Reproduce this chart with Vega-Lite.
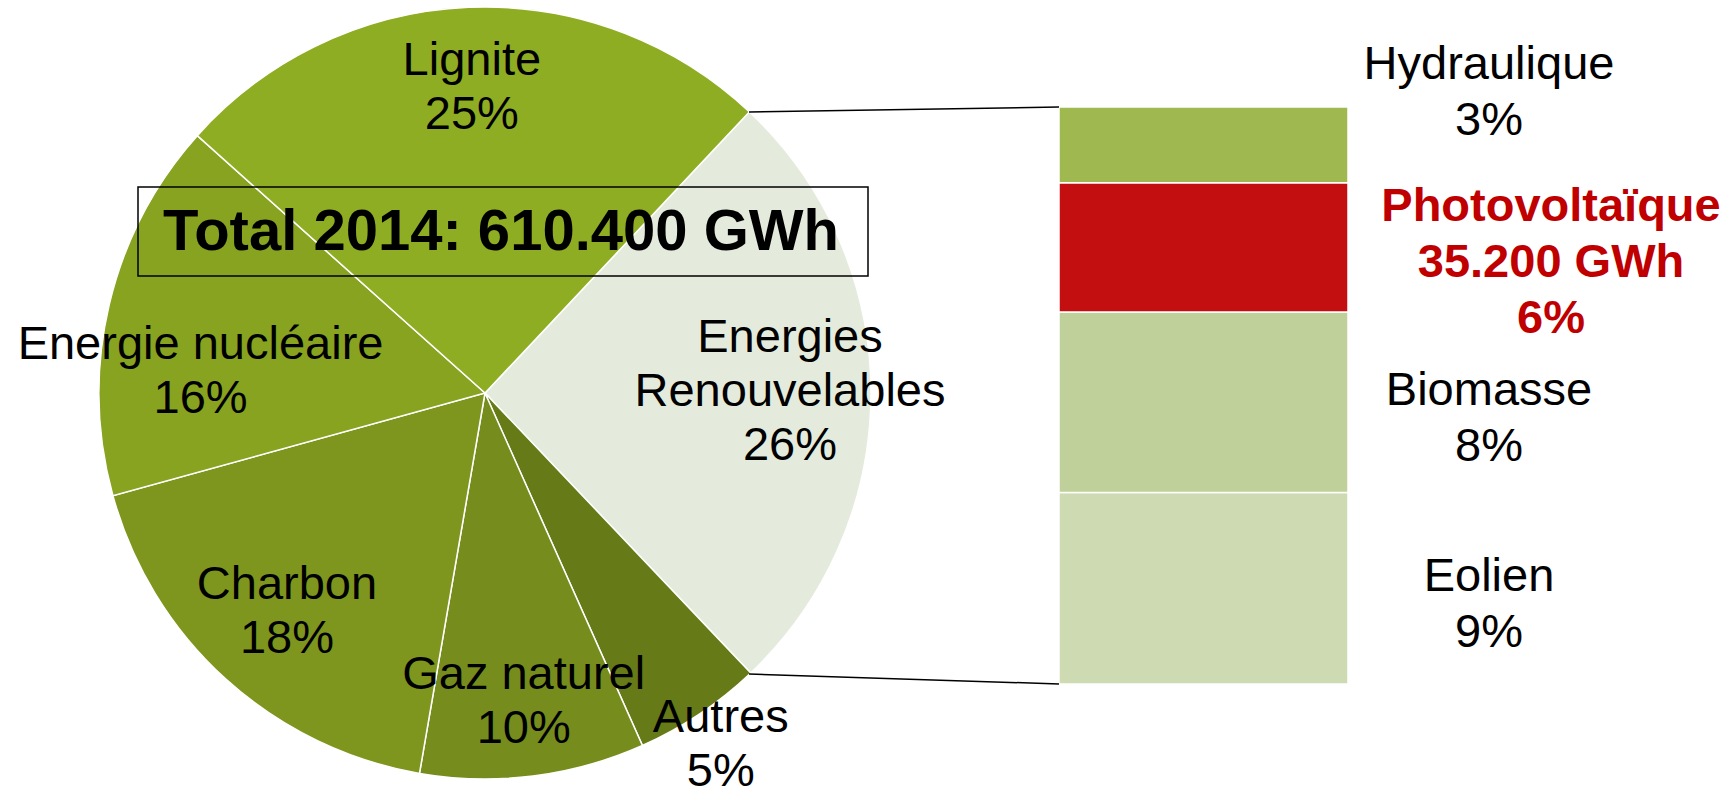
{
  "$schema": "https://vega.github.io/schema/vega-lite/v6.json",
  "width": 1729,
  "height": 787,
  "autosize": "none",
  "padding": 0,
  "background": "white",
  "config": {"view": {"stroke": null}, "font": "Liberation Sans"},
  "datasets": {
    "mix": [
      {"source": "Energies Renouvelables", "pct": 25.9, "idx": 1, "label": "Energies\nRenouvelables\n26%"},
      {"source": "Autres", "pct": 5.4, "idx": 2, "label": "Autres\n5%"},
      {"source": "Gaz naturel", "pct": 9.4, "idx": 3, "label": "Gaz naturel\n10%"},
      {"source": "Charbon", "pct": 18.0, "idx": 4, "label": "Charbon\n18%"},
      {"source": "Energie nucléaire", "pct": 15.9, "idx": 5, "label": "Energie nucléaire\n16%"},
      {"source": "Lignite", "pct": 25.4, "idx": 6, "label": "Lignite\n25%"}
    ],
    "renew": [
      {"group": "Energies Renouvelables", "source": "Eolien", "pct": 8.6, "idx": 1, "label": "Eolien\n9%"},
      {"group": "Energies Renouvelables", "source": "Biomasse", "pct": 8.1, "idx": 2, "label": "Biomasse\n8%"},
      {"group": "Energies Renouvelables", "source": "Photovoltaïque", "pct": 5.8, "idx": 3, "label": "Photovoltaïque\n35.200 GWh\n6%"},
      {"group": "Energies Renouvelables", "source": "Hydraulique", "pct": 3.4, "idx": 4, "label": "Hydraulique\n3%"}
    ]
  },
  "layer": [
    {
      "data": {"name": "mix"},
      "layer": [
        {
          "mark": {"type": "arc", "x": 485, "y": 393, "outerRadius": 386, "stroke": "white", "strokeWidth": 1.5},
          "encoding": {
            "theta": {"field": "pct", "type": "quantitative", "stack": true, "scale": {"range": [0.7549, 7.0381]}},
            "order": {"field": "idx", "type": "quantitative"},
            "color": {
              "field": "source", "type": "nominal", "legend": null,
              "scale": {
                "domain": ["Energies Renouvelables", "Autres", "Gaz naturel", "Charbon", "Energie nucléaire", "Lignite"],
                "range": ["#e4ebdc", "#667b17", "#768d1d", "#7e961d", "#87a320", "#8fad22"]
              }
            }
          }
        },
        {
          "mark": {
            "type": "text", "x": 485, "y": 393, "fontSize": 47, "lineHeight": 54, "lineBreak": "\n",
            "align": "center", "baseline": "middle", "color": "black",
            "radius": {"expr": "datum.source === 'Autres' ? 424 : datum.source === 'Charbon' ? 295 : datum.source === 'Energie nucléaire' ? 285 : datum.source === 'Gaz naturel' ? 311 : 305"},
            "dy": {"expr": "datum.source === 'Energie nucléaire' ? 17 : datum.source === 'Energies Renouvelables' ? -54 : -27"},
            "dx": {"expr": "datum.source === 'Energie nucléaire' ? -7 : 0"}
          },
          "encoding": {
            "theta": {"field": "pct", "type": "quantitative", "stack": true, "scale": {"range": [0.7549, 7.0381]}},
            "order": {"field": "idx", "type": "quantitative"},
            "detail": {"field": "source", "type": "nominal"},
            "text": {"field": "label", "type": "nominal"}
          }
        }
      ]
    },
    {
      "data": {"name": "renew"},
      "layer": [
        {
          "mark": {"type": "bar", "stroke": "white", "strokeWidth": 1.5},
          "encoding": {
            "x": {"field": "group", "type": "nominal", "axis": null, "scale": {"range": [1059, 1348], "paddingInner": 0, "paddingOuter": 0}},
            "y": {"field": "pct", "type": "quantitative", "stack": true, "axis": null, "scale": {"domain": [0, 25.9], "range": [684, 107], "nice": false}},
            "order": {"field": "idx", "type": "quantitative"},
            "color": {
              "field": "source", "type": "nominal", "legend": null,
              "scale": {
                "domain": ["Eolien", "Biomasse", "Photovoltaïque", "Hydraulique"],
                "range": ["#cddab2", "#bfd09a", "#c40f10", "#a0b850"]
              }
            }
          }
        },
        {
          "mark": {
            "type": "text", "fontSize": 47, "lineHeight": 56, "lineBreak": "\n",
            "align": "center", "baseline": "middle",
            "fontWeight": {"expr": "datum.source === 'Photovoltaïque' ? 'bold' : 'normal'"},
            "dx": {"expr": "datum.source === 'Photovoltaïque' ? 203 : 141"},
            "dy": {"expr": "datum.source === 'Hydraulique' ? -80 : datum.source === 'Photovoltaïque' ? -40 : -11"}
          },
          "encoding": {
            "x": {"field": "group", "type": "nominal", "bandPosition": 1, "axis": null, "scale": {"range": [1059, 1348], "paddingInner": 0, "paddingOuter": 0}},
            "y": {"field": "pct", "type": "quantitative", "stack": true, "bandPosition": 0.5, "axis": null, "scale": {"domain": [0, 25.9], "range": [684, 107], "nice": false}},
            "order": {"field": "idx", "type": "quantitative"},
            "detail": {"field": "source", "type": "nominal"},
            "text": {"field": "label", "type": "nominal"},
            "color": {"condition": {"test": "datum.source === 'Photovoltaïque'", "value": "#c00000"}, "value": "black"}
          }
        }
      ]
    },
    {
      "data": {"values": [{}]},
      "mark": {"type": "rule", "stroke": "black", "strokeWidth": 1.5},
      "encoding": {"x": {"value": 749}, "y": {"value": 112}, "x2": {"value": 1059}, "y2": {"value": 107}}
    },
    {
      "data": {"values": [{}]},
      "mark": {"type": "rule", "stroke": "black", "strokeWidth": 1.5},
      "encoding": {"x": {"value": 749}, "y": {"value": 674}, "x2": {"value": 1059}, "y2": {"value": 684}}
    },
    {
      "data": {"values": [{}]},
      "mark": {"type": "rect", "fill": null, "filled": false, "stroke": "black", "strokeWidth": 1.5},
      "encoding": {"x": {"value": 138}, "x2": {"value": 868}, "y": {"value": 187}, "y2": {"value": 276}}
    },
    {
      "data": {"values": [{"title": "Total 2014: 610.400 GWh"}]},
      "mark": {"type": "text", "fontSize": 58, "fontWeight": "bold", "align": "center", "baseline": "middle", "color": "black"},
      "encoding": {"x": {"value": 501}, "y": {"value": 233}, "text": {"field": "title", "type": "nominal"}}
    }
  ],
  "resolve": {"scale": {"x": "independent", "y": "independent", "color": "independent", "theta": "independent"}}
}
